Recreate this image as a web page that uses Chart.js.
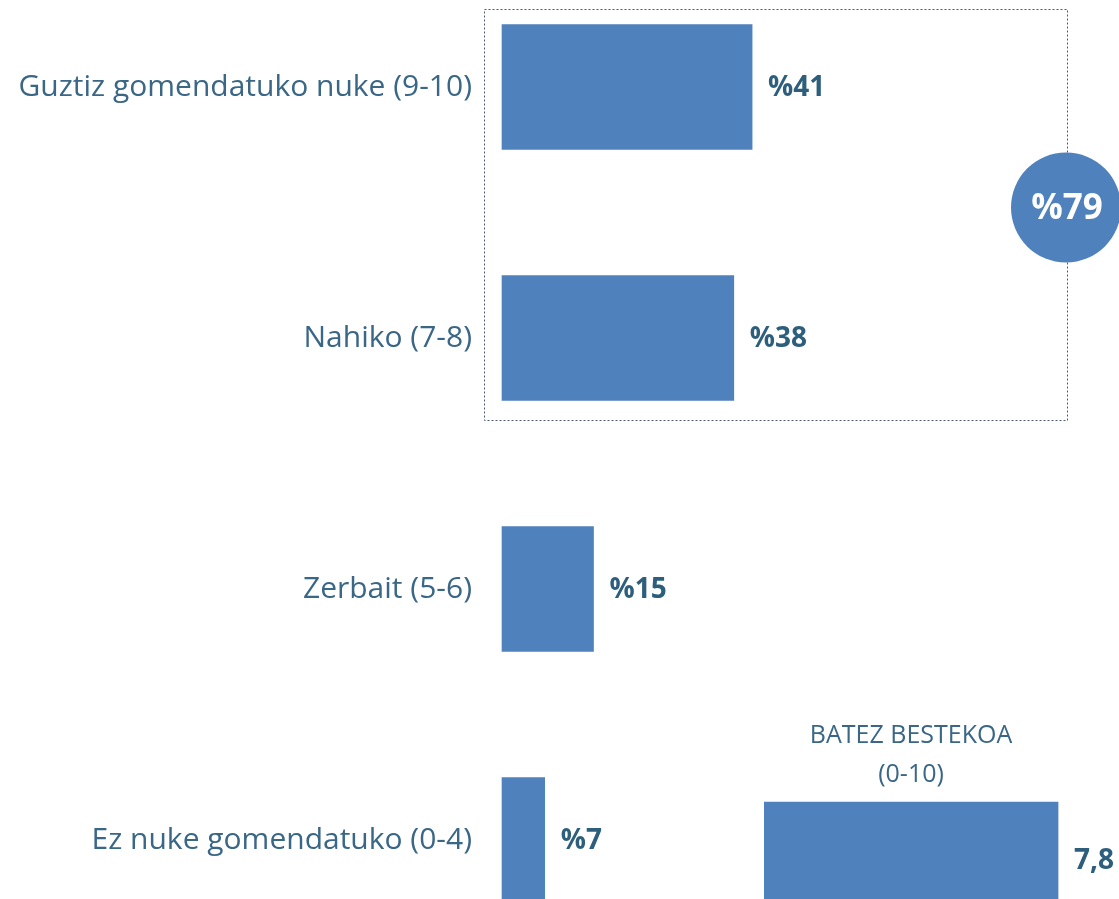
<!DOCTYPE html>
<html>
<head>
<meta charset="utf-8">
<script src="https://cdn.jsdelivr.net/npm/chart.js@4/dist/chart.umd.min.js"></script>
<style>
  html, body { margin: 0; padding: 0; background: #fff; overflow: hidden; }
  body { width: 1119px; height: 899px; position: relative; }
  #main { position: absolute; left: 0; top: 0; }
  #avg { position: absolute; left: 700px; top: 700px; }
</style>
</head>
<body>
<canvas id="main" width="1119" height="899"></canvas>
<canvas id="avg" width="441" height="230"></canvas>
<script>
const categories = ["Guztiz gomendatuko nuke (9-10)", "Nahiko (7-8)", "Zerbait (5-6)", "Ez nuke gomendatuko (0-4)"];
const shares = [41, 38, 15, 7];
const groupTotal = 79;

const avgLabel = ["BATEZ BESTEKOA", "(0-10)"];
const avgValue = [7.8];

const BLUE = "#4f81bd";
const TEXT = "#3a6786";
const DARK = "#2d5f7d";
const FONT = "'Open Sans', sans-serif";

// value labels next to the bars
const valueLabels = {
  id: "valueLabels",
  afterDatasetsDraw(chart, args, opts) {
    const ctx = chart.ctx;
    const meta = chart.getDatasetMeta(0);
    ctx.save();
    ctx.font = "bold " + opts.size + "px " + FONT;
    ctx.fillStyle = DARK;
    ctx.textBaseline = "middle";
    meta.data.forEach((bar, i) => {
      ctx.fillText(opts.format(chart.data.datasets[0].data[i]), bar.x + opts.gap, bar.y + 1);
    });
    ctx.restore();
  }
};

// dotted box round the two top bars + circle with their sum
const groupBox = {
  id: "groupBox",
  afterDatasetsDraw(chart) {
    const ctx = chart.ctx;
    const y = chart.scales.y;
    const top = y.getPixelForValue(0) - 78;
    const bottom = y.getPixelForValue(1) + 82;
    ctx.save();
    ctx.strokeStyle = "#4e5a70";
    ctx.lineWidth = 1;
    ctx.setLineDash([2, 2]);
    ctx.strokeRect(484.5, top + 0.5, 583, bottom - top);
    ctx.setLineDash([]);
    ctx.beginPath();
    ctx.arc(1066, 207.5, 55, 0, Math.PI * 2);
    ctx.fillStyle = BLUE;
    ctx.fill();
    ctx.fillStyle = "#fff";
    ctx.font = "bold 35px " + FONT;
    ctx.textAlign = "center";
    ctx.textBaseline = "middle";
    ctx.fillText("%" + groupTotal, 1067, 209);
    ctx.restore();
  }
};

new Chart(document.getElementById("main"), {
  type: "bar",
  data: {
    labels: categories,
    datasets: [{
      data: shares,
      backgroundColor: BLUE,
      barThickness: 125,
      clip: false
    }]
  },
  options: {
    indexAxis: "y",
    responsive: false,
    animation: false,
    layout: { padding: { top: 87, bottom: 59, left: 0, right: 7 } },
    plugins: {
      legend: { display: false },
      tooltip: { enabled: false },
      valueLabels: { size: 28, gap: 16, format: v => "%" + v }
    },
    scales: {
      x: { min: 0, max: 100, display: false },
      y: {
        offset: false,
        grid: { display: false, drawTicks: false },
        border: { display: false },
        ticks: { padding: 30, color: TEXT, font: { family: FONT, size: 30 } },
        afterFit(scale) { scale.width = 502; }
      }
    }
  },
  plugins: [valueLabels, groupBox]
});

// average title above the bar
const avgTitle = {
  id: "avgTitle",
  afterDatasetsDraw(chart) {
    const ctx = chart.ctx;
    const bar = chart.getDatasetMeta(0).data[0];
    const cx = (bar.base + bar.x) / 2;
    const top = bar.y - bar.height / 2;
    ctx.save();
    ctx.font = "25px " + FONT;
    ctx.fillStyle = TEXT;
    ctx.textAlign = "center";
    ctx.textBaseline = "middle";
    ctx.fillText(avgLabel[0], cx, top - 66);
    ctx.fillText(avgLabel[1], cx, top - 27);
    ctx.restore();
  }
};

new Chart(document.getElementById("avg"), {
  type: "bar",
  data: {
    labels: ["avg"],
    datasets: [{
      data: avgValue,
      backgroundColor: BLUE,
      barThickness: 116
    }]
  },
  options: {
    indexAxis: "y",
    responsive: false,
    animation: false,
    layout: { padding: { top: 100, bottom: 10, left: 64, right: 0 } },
    plugins: {
      legend: { display: false },
      tooltip: { enabled: false },
      valueLabels: { size: 28, gap: 16, format: v => v.toFixed(1).replace(".", ",") }
    },
    scales: {
      x: { min: 0, max: 10, display: false },
      y: { display: false }
    }
  },
  plugins: [valueLabels, avgTitle]
});
</script>
</body>
</html>
